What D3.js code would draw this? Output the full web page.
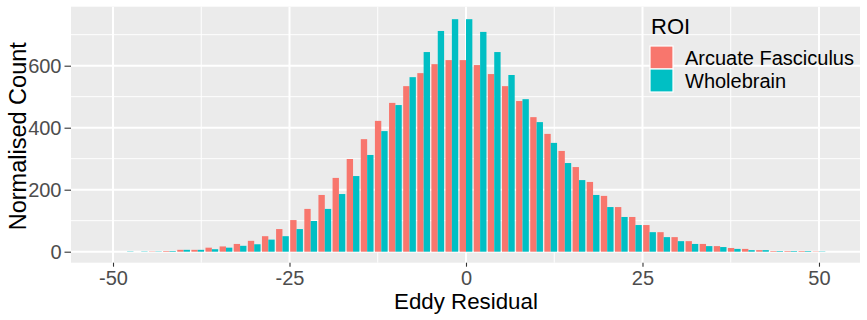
<!DOCTYPE html>
<html>
<head>
<meta charset="utf-8">
<script src="https://cdn.jsdelivr.net/npm/d3@7"></script>
<style>
  body { margin: 0; background: #ffffff; }
  text { font-family: "Liberation Sans", Arial, Helvetica, sans-serif; }
</style>
</head>
<body>
<div id="chart"></div>
<script>
var w = 867;
var h = 320;

// bin centres (binwidth 2)
var binCentres = [-48, -46, -44, -42, -40, -38, -36, -34, -32, -30, -28, -26, -24, -22, -20, -18, -16, -14, -12, -10,
                  -8, -6, -4, -2, 0, 2, 4, 6, 8, 10, 12, 14, 16, 18, 20, 22, 24, 26, 28, 30,
                  32, 34, 36, 38, 40, 42, 44, 46, 48, 50];
// normalised counts
var arcuate = [0, 0, 1, 2, 6, 6, 13, 17, 25, 35, 50, 73, 102, 138, 183, 238, 299, 363, 422, 480,
               534, 576, 605, 618, 618, 602, 573, 534, 486, 434, 380, 325, 273, 225, 180, 144, 112, 86, 63, 47,
               34, 25, 18, 12, 9, 5, 2, 2, 2, 1];
var wholebrain = [1, 1, 1, 2, 6, 6, 8, 13, 19, 24, 39, 50, 73, 99, 138, 186, 244, 312, 389, 473,
                  563, 644, 712, 750, 750, 709, 644, 570, 492, 418, 351, 286, 231, 183, 144, 112, 86, 63, 47, 34,
                  25, 18, 15, 9, 5, 5, 2, 2, 2, 1];
var groups = ["Arcuate Fasciculus", "Wholebrain"];
var colours = ["#F8766D", "#00BFC4"];
var xTicks = [-50, -25, 0, 25, 50];
var xMinor = [-37.5, -12.5, 12.5, 37.5];
var yTicks = [0, 200, 400, 600];
var yMinor = [100, 300, 500, 700];

var panel = {left: 71, right: 860, top: 6.7, bottom: 262.7};

var svg = d3.select("#chart")
            .append("svg")
            .attr("width", w)
            .attr("height", h);

var xScale = d3.scaleLinear()
            .domain([-55.95, 55.81])
            .range([panel.left, panel.right]);

var yScale = d3.scaleLinear()
            .domain([-35.5, 790.3])
            .range([panel.bottom, panel.top]);

// grey panel
svg.append("rect")
    .attr("x", panel.left)
    .attr("y", panel.top)
    .attr("width", panel.right - panel.left)
    .attr("height", panel.bottom - panel.top)
    .attr("fill", "#EBEBEB");

// minor grid first, then major
svg.selectAll(".yminor").data(yMinor).enter().append("line")
    .attr("x1", panel.left).attr("x2", panel.right)
    .attr("y1", function(d){ return yScale(d); })
    .attr("y2", function(d){ return yScale(d); })
    .attr("stroke", "#ffffff").attr("stroke-width", 1);
svg.selectAll(".xminor").data(xMinor).enter().append("line")
    .attr("y1", panel.top).attr("y2", panel.bottom)
    .attr("x1", function(d){ return xScale(d); })
    .attr("x2", function(d){ return xScale(d); })
    .attr("stroke", "#ffffff").attr("stroke-width", 1);
svg.selectAll(".ymajor").data(yTicks).enter().append("line")
    .attr("x1", panel.left).attr("x2", panel.right)
    .attr("y1", function(d){ return yScale(d); })
    .attr("y2", function(d){ return yScale(d); })
    .attr("stroke", "#ffffff").attr("stroke-width", 2);
svg.selectAll(".xmajor").data(xTicks).enter().append("line")
    .attr("y1", panel.top).attr("y2", panel.bottom)
    .attr("x1", function(d){ return xScale(d); })
    .attr("x2", function(d){ return xScale(d); })
    .attr("stroke", "#ffffff").attr("stroke-width", 2);

// dodged histogram bars, 0.9 of the bin split in two halves
var series = [arcuate, wholebrain];
series.forEach(function(vals, gi){
    svg.append("g")
        .selectAll("rect")
        .data(binCentres)
        .enter()
        .append("rect")
        .attr("x", function(d){ return gi == 0 ? xScale(d - 0.9) : xScale(d); })
        .attr("width", xScale(0.9) - xScale(0))
        .attr("y", function(d, i){ return yScale(vals[i]); })
        .attr("height", function(d, i){ return yScale(0) - yScale(vals[i]); })
        .attr("fill", colours[gi]);
});

// axes - plain hyphen for negatives like R does
var plainFormat = function(d){ return String(d); };
var xAxis = d3.axisBottom(xScale)
            .tickValues(xTicks)
            .tickSize(4)
            .tickPadding(3)
            .tickFormat(plainFormat);
var yAxis = d3.axisLeft(yScale)
            .tickValues(yTicks)
            .tickSize(6.5)
            .tickPadding(3)
            .tickFormat(plainFormat);

var gx = svg.append("g")
    .attr("transform", "translate(0," + panel.bottom + ")")
    .call(xAxis);
var gy = svg.append("g")
    .attr("transform", "translate(" + panel.left + ",0)")
    .call(yAxis);

[gx, gy].forEach(function(g){
    g.select(".domain").remove();
    g.selectAll(".tick line").attr("stroke", "#333333").attr("stroke-width", 1.1);
    g.selectAll(".tick text")
        .attr("fill", "#4D4D4D")
        .style("font-size", "20px")
        .style("font-family", "'Liberation Sans', Arial, sans-serif");
});
gx.selectAll(".tick text").attr("dy", null).attr("y", 22.5);
gy.selectAll(".tick text").attr("dy", "0.36em");

// axis titles
svg.append("text")
    .attr("x", xScale(0))
    .attr("y", 308.5)
    .attr("text-anchor", "middle")
    .style("font-size", "22.3px")
    .attr("fill", "#000000")
    .text("Eddy Residual");

svg.append("text")
    .attr("transform", "translate(25.5," + ((panel.top + panel.bottom) / 2 + 1.5) + ") rotate(-90)")
    .attr("text-anchor", "middle")
    .style("font-size", "23.5px")
    .attr("fill", "#000000")
    .text("Normalised Count");

// legend sits inside the panel, top right
var legend = svg.append("g").attr("transform", "translate(650,0)");
legend.append("text")
    .attr("x", 1)
    .attr("y", 33.5)
    .style("font-size", "22px")
    .attr("fill", "#000000")
    .text("ROI");

legend.selectAll("rect")
    .data(groups)
    .enter()
    .append("rect")
    .attr("x", 0)
    .attr("y", function(d, i){ return 46 + i * 23; })
    .attr("width", 23)
    .attr("height", 23)
    .attr("fill", function(d, i){ return colours[i]; })
    .attr("stroke", "#ffffff")
    .attr("stroke-width", 1.2);

legend.selectAll(".lab")
    .data(groups)
    .enter()
    .append("text")
    .attr("x", 35)
    .attr("y", function(d, i){ return 57.5 + i * 23; })
    .attr("dy", "0.36em")
    .style("font-size", "20px")
    .attr("fill", "#000000")
    .text(function(d){ return d; });
</script>
</body>
</html>
